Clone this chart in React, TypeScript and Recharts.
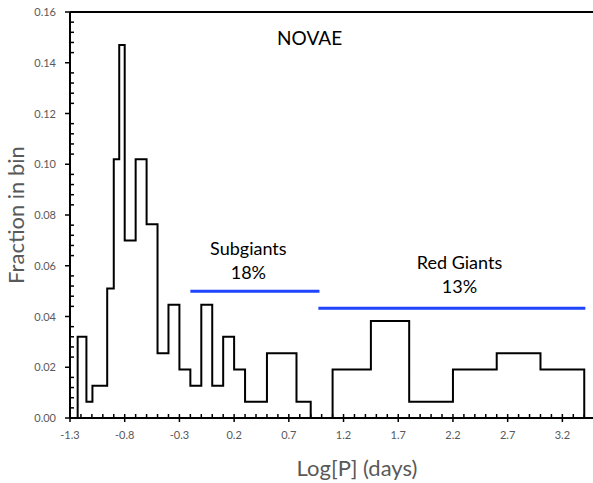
import { ComposedChart, Line, XAxis, YAxis, ReferenceLine, ReferenceDot } from 'recharts'

// histogram bins: edges in Log[P], fraction of novae in each bin
const binEdges = [
  -1.23, -1.15, -1.095, -0.96, -0.9, -0.85, -0.8, -0.7, -0.6, -0.5, -0.4, -0.3, -0.2, -0.1, 0, 0.1, 0.2, 0.3,
  0.5, 0.77, 0.9, 1.1, 1.45, 1.8, 2.2, 2.6, 3.0, 3.4,
]
const binFractions = [
  0.032, 0.0064, 0.0127, 0.051, 0.102, 0.147, 0.07, 0.102, 0.0764, 0.0255, 0.0446, 0.0191, 0.0127, 0.0446,
  0.0127, 0.032, 0.0191, 0.0064, 0.0255, 0.0064, 0, 0.0191, 0.0382, 0.0064, 0.0191, 0.0255, 0.0191,
]

const xTickLabels = ['-1.3', '-0.8', '-0.3', '0.2', '0.7', '1.2', '1.7', '2.2', '2.7', '3.2']
const yTickLabels = ['0.00', '0.02', '0.04', '0.06', '0.08', '0.10', '0.12', '0.14', '0.16']

// donor classes marked by the blue bars
const groupNames = ['Subgiants', 'Red Giants']
const groupShares = ['18%', '13%']
const groupFrom = [-0.2, 0.97]
const groupTo = [0.98, 3.41]
const groupLevels = [0.05, 0.0433]

const title = 'NOVAE'

const GRAY = '#595959'
const BLUE = '#1f45fc'
const FONT = 'Lato, "Open Sans", sans-serif'

// step outline: start at the axis, walk each bin, drop back to the axis
const steps = [
  { x: binEdges[0], y: 0 },
  ...binFractions.map((f, i) => ({ x: binEdges[i], y: f })),
  { x: binEdges[binEdges.length - 1], y: 0 },
]

const xMinorTicks = Array.from({ length: 48 }, (_, i) => Math.round((-1.3 + i * 0.1) * 10) / 10)
const yMinorTicks = Array.from({ length: 41 }, (_, i) => (i * 4) / 1000)

function XTick({ x, y, payload }: any) {
  const label = xTickLabels.find((l) => Math.abs(parseFloat(l) - payload.value) < 1e-6)
  return (
    <g>
      {label ? (
        <line x1={x} x2={x} y1={y - 4} y2={y + 4} stroke="#000" strokeWidth={1.5} />
      ) : (
        <line x1={x} x2={x} y1={y} y2={y - 4} stroke="#000" strokeWidth={1.5} />
      )}
      {label && (
        <text x={x} y={y + 21} textAnchor="middle" fill={GRAY} fontSize={11} fontFamily={FONT}>
          {label}
        </text>
      )}
    </g>
  )
}

function YTick({ x, y, payload }: any) {
  const label = yTickLabels.find((l) => Math.abs(parseFloat(l) - payload.value) < 1e-6)
  return (
    <g>
      {label ? (
        <line x1={x - 5} x2={x} y1={y} y2={y} stroke="#000" strokeWidth={1.5} />
      ) : (
        <line x1={x} x2={x + 4} y1={y} y2={y} stroke="#000" strokeWidth={1.5} />
      )}
      {label && (
        <text x={x - 14} y={y + 4} textAnchor="end" fill={GRAY} fontSize={11} fontFamily={FONT}>
          {label}
        </text>
      )}
    </g>
  )
}

// where the annotation texts sit, in data units
const groupLabelX = [0.33, 2.26]
const groupNameY = [0.0667, 0.0612]
const groupShareY = [0.0573, 0.0517]

export default function App() {
  return (
    <div style={{ position: 'absolute', left: 0, top: 0, background: '#fff', fontFamily: FONT }}>
      <ComposedChart width={593} height={483} data={steps} margin={{ top: 12, right: 0, bottom: 0, left: 8 }}>
        <XAxis
          dataKey="x"
          type="number"
          domain={[-1.3, 3.48]}
          allowDataOverflow
          ticks={xMinorTicks}
          interval={0}
          tickSize={0}
          tickMargin={0}
          tickLine={false}
          tick={<XTick />}
          height={65}
          axisLine={{ stroke: '#000', strokeWidth: 2 }}
          label={{
            content: ({ viewBox }: any) => (
              <text
                x={viewBox.x + 287}
                y={viewBox.y + 58}
                textAnchor="middle"
                fill={GRAY}
                fontSize={22}
                fontFamily={FONT}
              >
                Log[P] (days)
              </text>
            ),
          }}
        />
        <YAxis
          type="number"
          domain={[0, 0.16]}
          ticks={yMinorTicks}
          interval={0}
          tickSize={0}
          tickMargin={0}
          tickLine={false}
          tick={<YTick />}
          width={62}
          axisLine={{ stroke: '#000', strokeWidth: 2 }}
          label={{
            content: () => (
              <text
                x={24}
                y={215}
                transform="rotate(-90, 24, 215)"
                textAnchor="middle"
                fill={GRAY}
                fontSize={22}
                fontFamily={FONT}
              >
                Fraction in bin
              </text>
            ),
          }}
        />
        <ReferenceLine y={0.16} stroke="#000" strokeWidth={2} />
        {groupNames.map((name, i) => (
          <ReferenceLine
            key={name}
            segment={[
              { x: groupFrom[i], y: groupLevels[i] },
              { x: groupTo[i], y: groupLevels[i] },
            ]}
            stroke={BLUE}
            strokeWidth={3}
          />
        ))}
        <Line
          type="stepAfter"
          dataKey="y"
          stroke="#000"
          strokeWidth={2}
          dot={false}
          activeDot={false}
          isAnimationActive={false}
        />
        <ReferenceDot
          x={0.89}
          y={0.1497}
          r={0}
          fill="none"
          stroke="none"
          label={{ value: title, position: 'center', fill: '#000', fontSize: 19, fontFamily: FONT }}
        />
        {groupNames.map((name, i) => (
          <ReferenceDot
            key={name + '-n'}
            x={groupLabelX[i]}
            y={groupNameY[i]}
            r={0}
            fill="none"
            stroke="none"
            label={{ value: name, position: 'center', fill: '#000', fontSize: 18, fontFamily: FONT }}
          />
        ))}
        {groupShares.map((share, i) => (
          <ReferenceDot
            key={share + i}
            x={groupLabelX[i]}
            y={groupShareY[i]}
            r={0}
            fill="none"
            stroke="none"
            label={{ value: share, position: 'center', fill: '#000', fontSize: 18, fontFamily: FONT }}
          />
        ))}
      </ComposedChart>
    </div>
  )
}
